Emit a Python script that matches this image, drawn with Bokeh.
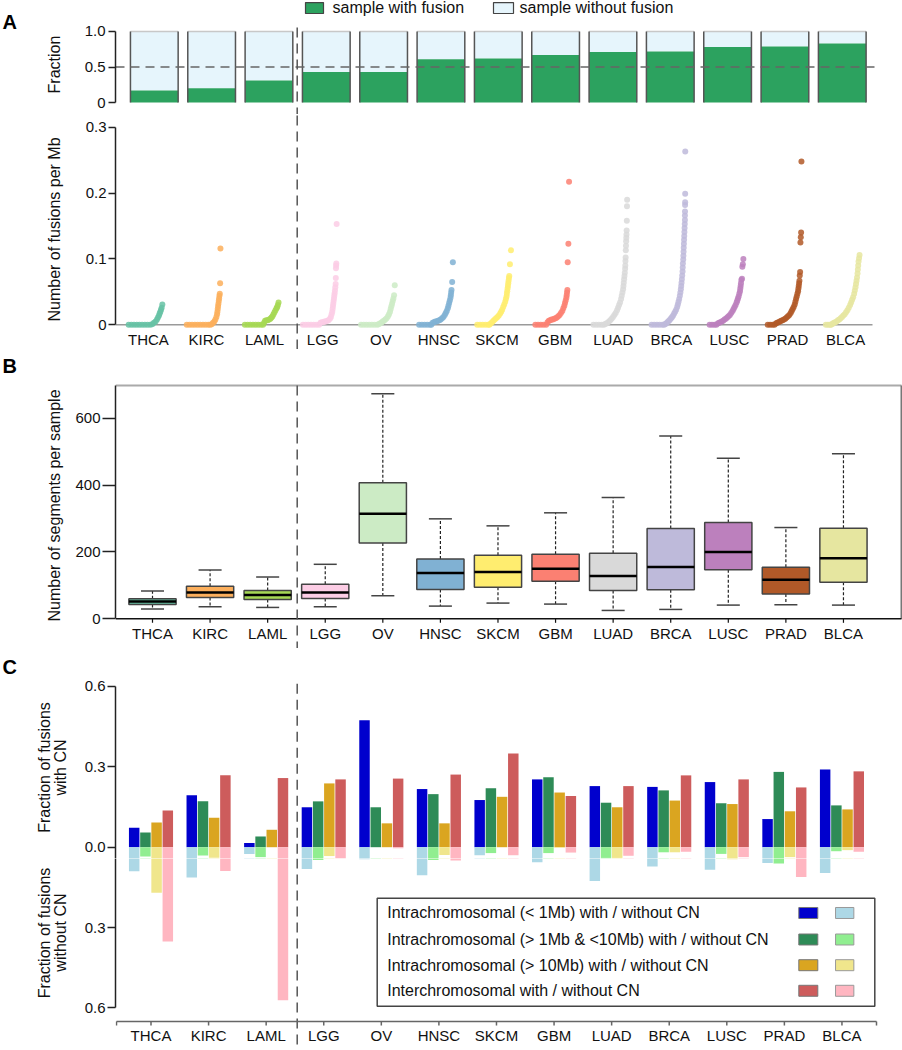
import math
from bokeh.plotting import figure
from bokeh.models import (Range1d, LinearAxis, FixedTicker, ColumnDataSource, NumeralTickFormatter)
from bokeh.layouts import column, row
from bokeh.embed import file_html
from bokeh.resources import INLINE
from bokeh.core.properties import value

FONT = "Liberation Sans"

# ---------------- data ----------------
cancers = ["THCA", "KIRC", "LAML", "LGG", "OV", "HNSC", "SKCM", "GBM",
           "LUAD", "BRCA", "LUSC", "PRAD", "BLCA"]
palette = ["#66c2a5", "#fcaf5c", "#a6d854", "#fccde5", "#ccebc5", "#80b1d3", "#ffed6f",
           "#fb8072", "#d9d9d9", "#bebada", "#bc80bd", "#b15928", "#e6e6a0"]

# Panel A (top): fraction of samples with fusion
frac_with_fusion = [0.17, 0.20, 0.31, 0.43, 0.43, 0.61, 0.62, 0.67, 0.71, 0.72, 0.78, 0.79, 0.83]
legend_top = ["sample with fusion", "sample without fusion"]

# Panel A (bottom): fusions per Mb, (rank percentile within cancer, value)
THCA_pts = [(0, 0), (8, 0), (16, 0), (24, 0), (32, 0), (40, 0), (48, 0), (56, 0), (64, 0), (70, 0.001),
            (75, 0.003), (80, 0.005), (84, 0.008), (87, 0.011), (90, 0.014), (92, 0.017), (94, 0.020),
            (96, 0.023), (98, 0.026), (100, 0.031)]
KIRC_pts = [(0, 0), (8, 0), (16, 0), (24, 0), (32, 0), (40, 0), (48, 0), (56, 0), (64, 0), (70, 0),
            (74, 0.001), (78, 0.003), (82, 0.005), (85, 0.008), (88, 0.012), (90, 0.016), (91, 0.020),
            (92, 0.024), (93, 0.028), (94, 0.032), (95, 0.036), (96, 0.040), (97, 0.044), (98, 0.047),
            (99, 0.063), (100, 0.116)]
LAML_pts = [(0, 0), (8, 0), (16, 0), (24, 0), (32, 0), (40, 0), (48, 0), (54, 0), (57, 0.003), (60, 0.006),
            (64, 0.007), (68, 0.007), (72, 0.008), (76, 0.009), (79, 0.011), (82, 0.013), (85, 0.016),
            (88, 0.019), (91, 0.022), (94, 0.025), (96, 0.027), (98, 0.030), (100, 0.034)]
LGG_pts = [(0, 0), (8, 0), (16, 0), (24, 0), (32, 0), (40, 0), (48, 0), (52, 0.003), (56, 0.004), (60, 0.004),
           (64, 0.005), (68, 0.005), (72, 0.006), (76, 0.007), (80, 0.009), (83, 0.012), (85, 0.016),
           (87, 0.020), (88, 0.024), (89, 0.028), (90, 0.032), (91, 0.036), (92, 0.040), (93, 0.044),
           (94, 0.048), (95, 0.052), (96, 0.057), (97, 0.062), (97.5, 0.071), (98, 0.086), (98.5, 0.090),
           (99, 0.093), (100, 0.153)]
OV_pts = [(0, 0), (8, 0), (16, 0), (24, 0), (32, 0), (40, 0), (48, 0), (52, 0.001), (56, 0.002), (60, 0.003),
          (64, 0.005), (68, 0.006), (72, 0.008), (76, 0.010), (80, 0.013), (83, 0.016), (86, 0.020),
          (88, 0.024), (90, 0.028), (92, 0.032), (94, 0.036), (96, 0.040), (98, 0.045), (100, 0.060)]
HNSC_pts = [(0, 0), (8, 0), (16, 0), (24, 0), (32, 0), (36, 0), (40, 0.003), (44, 0.004), (48, 0.005),
            (52, 0.005), (56, 0.006), (60, 0.007), (64, 0.008), (68, 0.010), (72, 0.012), (76, 0.015),
            (79, 0.018), (82, 0.021), (85, 0.025), (87, 0.029), (89, 0.033), (91, 0.037), (93, 0.041),
            (94, 0.045), (95, 0.049), (96, 0.053), (98, 0.065), (100, 0.095)]
SKCM_pts = [(0, 0), (8, 0), (16, 0), (24, 0), (32, 0), (36, 0), (40, 0.002), (44, 0.004), (48, 0.006),
            (52, 0.008), (56, 0.010), (60, 0.012), (64, 0.014), (68, 0.017), (71, 0.020), (74, 0.023),
            (77, 0.027), (80, 0.031), (83, 0.035), (85, 0.039), (87, 0.043), (88, 0.047), (89, 0.051),
            (90, 0.055), (91, 0.059), (92, 0.063), (93, 0.067), (94, 0.071), (95, 0.074), (97, 0.092),
            (100, 0.113)]
GBM_pts = [(0, 0), (8, 0), (16, 0), (24, 0), (32, 0), (36, 0.004), (40, 0.006), (44, 0.007), (48, 0.008),
           (52, 0.008), (56, 0.009), (60, 0.010), (64, 0.011), (68, 0.013), (72, 0.015), (76, 0.018),
           (80, 0.021), (83, 0.025), (86, 0.029), (88, 0.033), (90, 0.037), (92, 0.041), (93, 0.045),
           (94, 0.049), (95, 0.053), (96, 0.095), (98, 0.123), (100, 0.217)]
LUAD_pts = [(0, 0), (8, 0), (16, 0), (24, 0), (30, 0), (34, 0.001), (38, 0.002), (42, 0.003), (46, 0.005),
            (50, 0.007), (54, 0.009), (58, 0.012), (62, 0.015), (66, 0.018), (70, 0.022), (73, 0.026),
            (76, 0.030), (79, 0.034), (82, 0.039), (84, 0.044), (86, 0.049), (88, 0.054), (89, 0.059),
            (90, 0.064), (91, 0.069), (92, 0.074), (93, 0.079), (94, 0.085), (94.5, 0.090), (95, 0.097),
            (95.5, 0.102), (96, 0.113), (96.5, 0.120), (97, 0.127), (97.5, 0.132), (98, 0.137),
            (98.5, 0.143), (99, 0.158), (99.5, 0.180), (100, 0.190)]
BRCA_pts = [(0, 0), (8, 0), (16, 0), (24, 0), (32, 0), (37, 0), (40, 0.001), (43, 0.002), (46, 0.003),
            (49, 0.005), (52, 0.006), (55, 0.008), (58, 0.010), (61, 0.012), (64, 0.014), (67, 0.017),
            (70, 0.020), (73, 0.023), (76, 0.027), (78, 0.031), (80, 0.035), (82, 0.039), (84, 0.044),
            (85.5, 0.049), (87, 0.054), (88, 0.059), (89, 0.064), (90, 0.069), (91, 0.075), (92, 0.081),
            (92.5, 0.087), (93, 0.093), (94, 0.099), (94.5, 0.105), (95, 0.111), (95.5, 0.117), (96, 0.123),
            (96.5, 0.129), (97, 0.135), (97.5, 0.141), (98, 0.147), (98.5, 0.153), (99, 0.159), (99, 0.166),
            (99.3, 0.172), (99.5, 0.182), (99.7, 0.186), (99.8, 0.199), (100, 0.263)]
LUSC_pts = [(0, 0), (7, 0), (14, 0), (20, 0), (24, 0.002), (28, 0.003), (32, 0.004), (36, 0.005), (40, 0.006),
            (44, 0.008), (48, 0.009), (52, 0.011), (56, 0.013), (60, 0.015), (64, 0.018), (68, 0.021),
            (71, 0.024), (74, 0.027), (77, 0.030), (80, 0.034), (82, 0.037), (84, 0.040), (86, 0.043),
            (88, 0.047), (90, 0.051), (91, 0.055), (92, 0.059), (93, 0.063), (94, 0.068), (96, 0.070),
            (97, 0.088), (98.5, 0.092), (100, 0.100)]
PRAD_pts = [(0, 0), (7, 0), (14, 0), (20, 0), (24, 0.002), (28, 0.003), (32, 0.004), (36, 0.005), (40, 0.006),
            (44, 0.007), (48, 0.008), (52, 0.009), (56, 0.011), (60, 0.013), (64, 0.015), (68, 0.018),
            (71, 0.021), (74, 0.024), (77, 0.027), (80, 0.031), (82, 0.035), (84, 0.039), (86, 0.043),
            (88, 0.047), (90, 0.051), (91, 0.055), (92, 0.059), (93, 0.063), (94, 0.067), (95, 0.075),
            (96, 0.080), (97, 0.125), (98, 0.133), (99, 0.140), (100, 0.248)]
BLCA_pts = [(0, 0), (6, 0), (12, 0), (15, 0), (18, 0.001), (21, 0.002), (24, 0.003), (28, 0.004), (32, 0.005),
            (36, 0.007), (40, 0.008), (44, 0.010), (48, 0.012), (52, 0.014), (56, 0.016), (60, 0.019),
            (64, 0.022), (68, 0.026), (72, 0.030), (75, 0.034), (78, 0.038), (81, 0.042), (84, 0.047),
            (86, 0.052), (88, 0.057), (89.5, 0.062), (91, 0.067), (92.5, 0.072), (94, 0.078), (95, 0.084),
            (96, 0.090), (97, 0.096), (98.5, 0.101), (100, 0.106)]
fusion_rate = [THCA_pts, KIRC_pts, LAML_pts, LGG_pts, OV_pts, HNSC_pts, SKCM_pts, GBM_pts,
               LUAD_pts, BRCA_pts, LUSC_pts, PRAD_pts, BLCA_pts]

# Panel B: number of segments per sample (box plot stats)
seg_low = [29, 36, 34, 36, 69, 38, 47, 44, 25, 28, 41, 42, 41]
seg_q1 = [43, 64, 58, 61, 227, 88, 94, 112, 85, 87, 147, 74, 109]
seg_med = [52, 79, 71, 79, 314, 137, 140, 150, 128, 155, 200, 117, 181]
seg_q3 = [60, 97, 85, 103, 407, 179, 190, 193, 196, 270, 288, 154, 271]
seg_high = [83, 146, 125, 163, 673, 299, 278, 317, 363, 547, 480, 273, 494]

# Panel C: fraction of fusions with / without copy-number change
cn_with = {
    "lt1": [0.073, 0.194, 0.016, 0.149, 0.474, 0.217, 0.176, 0.253, 0.228, 0.225, 0.243, 0.105, 0.290],
    "1to10": [0.055, 0.171, 0.040, 0.171, 0.149, 0.198, 0.220, 0.261, 0.166, 0.212, 0.164, 0.281, 0.156],
    "gt10": [0.092, 0.110, 0.065, 0.238, 0.089, 0.089, 0.188, 0.204, 0.149, 0.174, 0.161, 0.134, 0.141],
    "inter": [0.137, 0.268, 0.258, 0.253, 0.256, 0.271, 0.350, 0.191, 0.228, 0.268, 0.253, 0.223, 0.283],
}
cn_without = {
    "lt1": [0.090, 0.113, 0.025, 0.081, 0.045, 0.105, 0.030, 0.056, 0.126, 0.072, 0.084, 0.059, 0.096],
    "1to10": [0.035, 0.031, 0.037, 0.048, 0.0, 0.048, 0.022, 0.022, 0.040, 0.019, 0.025, 0.061, 0.015],
    "gt10": [0.170, 0.039, 0.0, 0.033, 0.0, 0.029, 0.0, 0.002, 0.040, 0.019, 0.045, 0.037, 0.011],
    "inter": [0.352, 0.089, 0.571, 0.041, 0.004, 0.050, 0.030, 0.020, 0.032, 0.017, 0.037, 0.111, 0.017],
}
cn_keys = ["lt1", "1to10", "gt10", "inter"]
cn_labels = ["Intrachromosomal (< 1Mb) with / without CN",
             "Intrachromosomal (> 1Mb & <10Mb) with / without CN",
             "Intrachromosomal (> 10Mb) with / without CN",
             "Interchromosomal with / without CN"]
cn_dark = ["#0000CD", "#2E8B57", "#DAA520", "#CD5C5C"]
cn_light = ["#ADD8E6", "#90EE90", "#F0E68C", "#FFB6C1"]

# ---------------- layout helpers ----------------
TOTAL_H = 1046
LAB_W = 70           # left strip holding panel letters and y-axis titles
MAIN_W = 832
LEFT = 45            # frame starts at page x = 115
FRAME_L, FRAME_R = 115, 902
idx = list(range(len(cancers)))


def gx(px, c0, step):
    return (px - c0) / step


def make_fig(h, y0, y1, xs, xe):
    p = figure(width=MAIN_W, height=h, x_range=Range1d(xs, xe), y_range=Range1d(y0, y1),
               output_backend="svg", toolbar_location=None,
               x_axis_location=None, y_axis_location=None,
               min_border_left=LEFT, min_border_right=0, min_border_top=0, min_border_bottom=0)
    p.outline_line_color = None
    p.grid.visible = False
    p.background_fill_color = "white"
    p.border_fill_color = "white"
    return p


def add_yaxis(p, ticks, bounds, tick_out, standoff, fmt="0.0", overrides=None):
    ax = LinearAxis(ticker=FixedTicker(ticks=ticks), bounds=bounds,
                    formatter=NumeralTickFormatter(format=fmt))
    if overrides:
        ax.major_label_overrides = overrides
    ax.axis_line_color = "#222"
    ax.axis_line_width = 1.5
    ax.major_tick_line_color = "#222"
    ax.major_tick_line_width = 1.5
    ax.major_tick_in = 0
    ax.major_tick_out = tick_out
    ax.minor_tick_line_color = None
    ax.major_label_text_font = FONT
    ax.major_label_text_font_size = "15px"
    ax.major_label_text_color = "#111"
    ax.major_label_standoff = standoff
    p.add_layout(ax, "left")


def vdash(p, x, y0, y1):
    p.segment(x0=[x], y0=[y0], x1=[x], y1=[y1], line_color="#555", line_width=1.5, line_dash="10 6")


def cat_labels(p, xs, yv):
    src = ColumnDataSource(dict(x=xs, y=[yv] * len(xs), t=cancers))
    p.text(x="x", y="y", text="t", source=src, text_align="center", text_baseline="middle",
           text_font=value(FONT), text_font_size="15px", text_color="#111")


# ---------------- Fig 1: fraction (page y 0-114) ----------------
GREEN, LIGHT = "#2ca25f", "#e6f5fc"
C1, S1 = 153.8, 57.33
f1 = make_fig(114, -0.169, 1.4366, gx(FRAME_L, C1, S1), gx(FRAME_R, C1, S1))
bw = 0.832
src1 = ColumnDataSource(dict(x=idx, f=frac_with_fusion,
                             l=[i - bw / 2 for i in idx], r=[i + bw / 2 for i in idx]))
f1.vbar(x="x", width=bw, bottom="f", top=1, fill_color=LIGHT, line_color=None, source=src1)
f1.vbar(x="x", width=bw, bottom=0, top="f", fill_color=GREEN, line_color=None, source=src1)
f1.segment(x0="l", y0=1, x1="r", y1=1, line_color="#c8c8c8", line_width=1.5, source=src1)
f1.segment(x0="l", y0=0, x1="l", y1=1, line_color="#555", line_width=1.5, source=src1)
f1.segment(x0="r", y0=0, x1="r", y1=1, line_color="#555", line_width=1.5, source=src1)
f1.segment(x0=[gx(FRAME_L, C1, S1)], y0=[0.5], x1=[gx(874, C1, S1)], y1=[0.5], line_color="#666",
           line_width=1.5, line_dash="9 6")
vdash(f1, gx(296.7, C1, S1), 1.056, -0.169)
add_yaxis(f1, [0, 0.5, 1], (0, 1), 7, 3, fmt="0.0", overrides={0: "0"})
# legend (top)
f1.quad(left=[gx(305, C1, S1), gx(493, C1, S1)], right=[gx(323, C1, S1), gx(513, C1, S1)],
        top=[1.408, 1.408], bottom=[1.2535, 1.2535], fill_color=[GREEN, LIGHT],
        line_color="#444", line_width=1.2)
f1.text(x=[gx(332, C1, S1), gx(519, C1, S1)], y=[1.331, 1.331], text=legend_top,
        text_align="left", text_baseline="middle", text_font=value(FONT),
        text_font_size="16px", text_color="#111")

# ---------------- Fig 2: fusions per Mb (page y 114-349) ----------------
C2, S2 = 145.0, 58.1
XS2 = gx(FRAME_L, C2, S2)
f2 = make_fig(235, -0.0375, 0.31929, XS2, gx(FRAME_R, C2, S2))
f2.segment(x0=[XS2], y0=[0], x1=[gx(872, C2, S2)], y1=[0], line_color="#9a9a9a", line_width=1.5)
px, py, pc = [], [], []
for i, pts in enumerate(fusion_rate):
    for rk, v in pts:
        px.append(i - 0.29 + 0.58 * rk / 100.0)
        py.append(v)
        pc.append(palette[i])
f2.scatter(x=px, y=py, size=6, fill_color=pc, fill_alpha=0.85, line_color=None)
cat_labels(f2, [i + 0.05 for i in idx], -0.0223)
vdash(f2, gx(296.7, C2, S2), -0.0375, 0.3193)
add_yaxis(f2, [0, 0.1, 0.2, 0.3], (0, 0.3), 7, 2, fmt="0.0", overrides={0: "0"})

# ---------------- Fig 3: segments box plot (page y 349-648) ----------------
C3, S3 = 152.0, 57.58
XS3, XE3 = gx(FRAME_L, C3, S3), gx(FRAME_R, C3, S3)
BOX_TOP = 697.8
f3 = make_fig(299, -88.83, 805.5, XS3, XE3)
boxw, capw = 0.82, 0.4
src3 = ColumnDataSource(dict(x=idx, lo=seg_low, q1=seg_q1, med=seg_med, q3=seg_q3, hi=seg_high,
                             c=palette,
                             bl=[i - boxw / 2 for i in idx], br=[i + boxw / 2 for i in idx],
                             cl=[i - capw / 2 for i in idx], cr=[i + capw / 2 for i in idx]))
f3.segment(x0=[XS3], y0=[BOX_TOP], x1=[gx(901, C3, S3)], y1=[BOX_TOP], line_color="#aaa", line_width=2)
f3.segment(x0=[gx(901, C3, S3)], y0=[0], x1=[gx(901, C3, S3)], y1=[BOX_TOP], line_color="#777",
           line_width=2)
f3.segment(x0="x", y0="q3", x1="x", y1="hi", line_color="#222", line_width=1.2, line_dash="3 2",
           source=src3)
f3.segment(x0="x", y0="q1", x1="x", y1="lo", line_color="#222", line_width=1.2, line_dash="3 2",
           source=src3)
f3.segment(x0="cl", y0="hi", x1="cr", y1="hi", line_color="#444", line_width=1.5, source=src3)
f3.segment(x0="cl", y0="lo", x1="cr", y1="lo", line_color="#444", line_width=1.5, source=src3)
f3.vbar(x="x", width=boxw, bottom="q1", top="q3", fill_color="c", line_color="#444", line_width=1.5,
        source=src3)
f3.segment(x0="bl", y0="med", x1="br", y1="med", line_color="#000", line_width=2.5, source=src3)
f3.segment(x0=[XS3], y0=[0], x1=[gx(901, C3, S3)], y1=[0], line_color="#111", line_width=1.5)
f3.segment(x0=idx, y0=[0] * 13, x1=idx, y1=[-12] * 13, line_color="#111", line_width=1.2)
cat_labels(f3, idx, -44)
vdash(f3, gx(296.7, C3, S3), BOX_TOP, -88.83)
add_yaxis(f3, [0, 200, 400, 600], (0, BOX_TOP), 13, 2, fmt="0")

# ---------------- Fig 4 / 5: CN fractions (page y 648-858, 858-1046) ----------------
C4, S4 = 150.5, 57.58
XS4, XE4 = gx(FRAME_L, C4, S4), gx(FRAME_R, C4, S4)
offs = [-0.292, -0.097, 0.097, 0.292]
cbw = 0.182
f4 = make_fig(210, -0.04216, 0.7414, XS4, XE4)
f5 = make_fig(188, 0.7437, 0.04216, XS4, XE4)   # inverted: fraction without CN grows downward
for k, key in enumerate(cn_keys):
    xs_k = [i + offs[k] for i in idx]
    f4.vbar(x=xs_k, width=cbw, bottom=0, top=cn_with[key], fill_color=cn_dark[k], line_color=None)
    f4.vbar(x=xs_k, width=cbw, bottom=[-v for v in cn_without[key]], top=0,
            fill_color=cn_light[k], line_color=None)
    f5.vbar(x=xs_k, width=cbw, bottom=0, top=cn_without[key], fill_color=cn_light[k], line_color=None)
DX4 = gx(296.7, C4, S4)
vdash(f4, DX4, 0.61, -0.04216)
add_yaxis(f4, [0, 0.3, 0.6], (-0.04216, 0.6), 8, 2, fmt="0.0")
vdash(f5, DX4, 0.04216, 0.7437)
add_yaxis(f5, [0.3, 0.6], (0.04216, 0.6), 8, 2, fmt="0.0")

AX_Y = 0.6504
tick_x = [gx(116, C4, S4)] + idx + [gx(876, C4, S4)]
f5.segment(x0=[gx(116, C4, S4)], y0=[AX_Y], x1=[gx(876, C4, S4)], y1=[AX_Y], line_color="#666",
           line_width=1.5)
f5.segment(x0=tick_x, y0=[AX_Y] * len(tick_x), x1=tick_x, y1=[AX_Y + 0.015] * len(tick_x),
           line_color="#666", line_width=1.5)
cat_labels(f5, idx, 0.7026)

# C legend
f5.quad(left=[gx(376.7, C4, S4)], right=[gx(874.3, C4, S4)], top=[0.1903], bottom=[0.5933],
        fill_color="white", line_color="#444", line_width=1.5)
rows = [0.2455, 0.3444, 0.4403, 0.5358]
f5.text(x=[gx(386.7, C4, S4)] * 4, y=rows, text=cn_labels, text_align="left", text_baseline="middle",
        text_font=value(FONT), text_font_size="16px", text_color="#111")
f5.rect(x=[gx(807.8, C4, S4)] * 4, y=rows, width=0.33, height=0.041, fill_color=cn_dark,
        line_color="#777", line_width=1)
f5.rect(x=[gx(844.2, C4, S4)] * 4, y=rows, width=0.318, height=0.041, fill_color=cn_light,
        line_color="#999", line_width=1)

# ---------------- left strip: panel letters and y-axis titles ----------------
lab = figure(width=LAB_W, height=TOTAL_H, x_range=Range1d(0, LAB_W), y_range=Range1d(0, TOTAL_H),
             output_backend="svg", toolbar_location=None, x_axis_location=None, y_axis_location=None,
             min_border_left=0, min_border_right=0, min_border_top=0, min_border_bottom=0)
lab.outline_line_color = None
lab.grid.visible = False


def page_y(y):
    return TOTAL_H - y


letters = ["A", "B", "C"]
lab.text(x=[2, 2, 2], y=[page_y(21.5), page_y(365), page_y(666.7)], text=letters,
         text_align="left", text_baseline="middle", text_font=value(FONT), text_font_size="20px",
         text_font_style="bold", text_color="#000")
ytitles = ["Fraction", "Number of fusions per Mb", "Number of segments per sample",
           "Fraction of fusions", "with CN", "Fraction of fusions", "without CN"]
yt_x = [54, 53.5, 54, 43.5, 60, 43.5, 60]
yt_y = [page_y(64), page_y(229), page_y(505), page_y(767), page_y(767), page_y(932.5), page_y(932)]
lab.text(x=yt_x, y=yt_y, text=ytitles, angle=math.pi / 2, text_align="center",
         text_baseline="middle", text_font=value(FONT), text_font_size="16px", text_color="#111")

layout = row(lab, column(f1, f2, f3, f4, f5, spacing=0), spacing=0)
open("out.html", "w").write(file_html(layout, INLINE))
